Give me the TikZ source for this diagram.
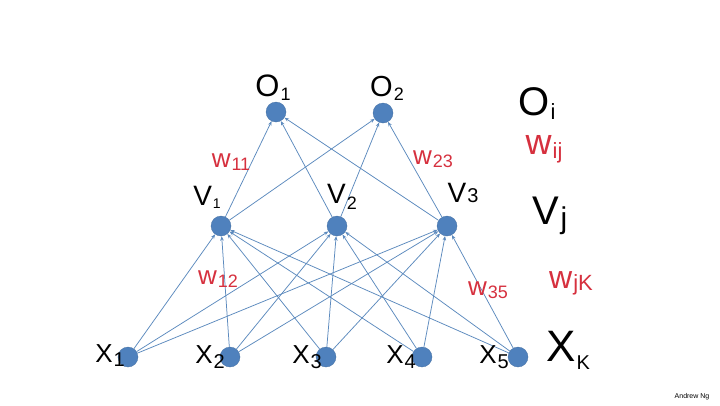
\documentclass[tikz,border=0pt]{standalone}
\usepackage{fontspec}
\setmainfont{Liberation Sans}
\usetikzlibrary{arrows.meta}
\definecolor{nodeblue}{RGB}{79,129,189}
\definecolor{edgeblue}{RGB}{92,138,190}
\definecolor{wred}{RGB}{214,48,62}
\newcommand{\hw}[5]{{\fontsize{#1}{#1}\selectfont #2\raisebox{-#5pt}{\fontsize{#3}{#3}\selectfont\hspace{1pt}#4}}}
\begin{document}
\begin{tikzpicture}[x=1pt,y=-1pt,
  unit/.style={circle,fill=nodeblue,draw=nodeblue!85!black,line width=0.3pt,minimum size=20pt,inner sep=0pt},
  conn/.style={draw=edgeblue,line width=0.75pt,-{Stealth[length=4.5pt,width=3.5pt]}},
  blk/.style={text=black,inner sep=0pt},
  red/.style={text=wred,inner sep=0pt}]
\useasboundingbox[fill=white] (0,0) rectangle (720,405);
% units
\node[unit] (o1) at (276,112) {};
\node[unit] (o2) at (383,113) {};
\node[unit] (v1) at (221,226) {};
\node[unit] (v2) at (337,226) {};
\node[unit] (v3) at (447,226) {};
\node[unit] (x1) at (128,357) {};
\node[unit] (x2) at (230,357) {};
\node[unit] (x3) at (326,357) {};
\node[unit] (x4) at (422,357) {};
\node[unit] (x5) at (518,357) {};
% connectors input -> hidden
\foreach \x in {x1,x2,x3,x4,x5}{
  \foreach \v in {v1,v2,v3}{
    \draw[conn] (\x) -- (\v);
  }
}
% connectors hidden -> output
\foreach \v in {v1,v2,v3}{
  \foreach \o in {o1,o2}{
    \draw[conn] (\v) -- (\o);
  }
}
% node labels
\node[blk] (lo1) at (273,88) {\hw{31}{O}{18}{1}{4}};
\node[blk] (lo2) at (387,88) {\hw{29}{O}{18}{2}{4}};
\node[blk] (lv1) at (207,197) {\hw{28}{V}{14}{1}{3}};
\node[blk] (lv2) at (342,197) {\hw{28}{V}{18}{2}{6}};
\node[blk] (lv3) at (463,193) {\hw{28}{V}{20}{3}{0}};
\node[blk] (lx1) at (110,356) {\hw{26}{X}{20}{1}{4}};
\node[blk] (lx2) at (210,357) {\hw{26}{X}{20}{2}{5}};
\node[blk] (lx3) at (307,357) {\hw{26}{X}{20}{3}{5}};
\node[blk] (lx4) at (401,357) {\hw{26}{X}{20}{4}{5}};
\node[blk] (lx5) at (494,357) {\hw{26}{X}{20}{5}{5}};
% weight labels
\node[red] (w11) at (231,162) {\hw{26}{w}{18}{11}{3}};
\node[red] (w23) at (433,159) {\hw{26}{w}{18}{23}{3}};
\node[red] (w12) at (218,279) {\hw{26}{w}{18}{12}{3}};
\node[red] (w35) at (488,290) {\hw{26}{w}{18}{35}{3}};
% legend
\node[blk] (leo) at (537,104) {\hw{40}{O}{22}{i}{4}};
\node[red] (lew) at (544,149) {\hw{36}{w}{22}{ij}{4}};
\node[blk] (lev) at (550,216) {\hw{40}{V}{30}{j}{4}};
\node[red] (lewk) at (571,283) {\hw{32}{w}{22}{jK}{2}};
\node[blk] (lex) at (568,350) {\hw{44}{X}{20}{K}{8}};
% credit
\node[blk,font=\fontsize{7}{7}\selectfont] (credit) at (692,397) {Andrew Ng};
\end{tikzpicture}
\end{document}
